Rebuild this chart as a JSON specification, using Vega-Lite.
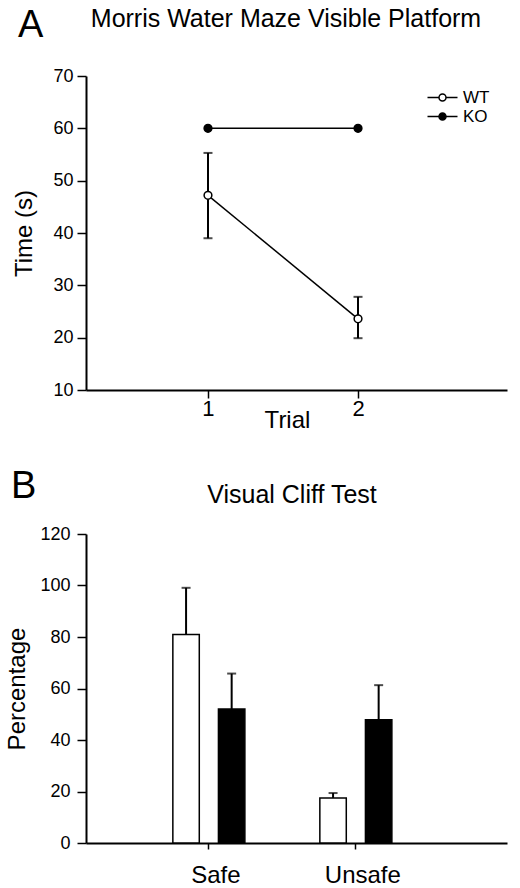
{
  "$schema": "https://vega.github.io/schema/vega-lite/v6.json",
  "padding": {"left": 5, "top": 7, "right": 5, "bottom": 4},
  "config": {
    "font": "Liberation Sans",
    "view": {"stroke": null},
    "axis": {
      "grid": false,
      "domainColor": "black",
      "tickColor": "black",
      "labelColor": "black",
      "titleColor": "black",
      "domainWidth": 2,
      "tickWidth": 1.5,
      "titleFontWeight": "normal",
      "labelFont": "Liberation Sans",
      "titleFont": "Liberation Sans"
    },
    "legend": {"labelFont": "Liberation Sans", "labelColor": "black"},
    "title": {"color": "black", "fontWeight": "normal", "font": "Liberation Sans"}
  },
  "spacing": 36,
  "vconcat": [
    {
      "title": {"text": "A", "anchor": "start", "frame": "bounds", "fontSize": 38, "offset": -38, "dx": 5},
      "vconcat": [
        {
          "title": {"text": "Morris Water Maze Visible Platform", "fontSize": 25, "anchor": "middle", "frame": "group", "offset": 35, "dx": -10.5},
          "width": 421,
          "height": 314,
          "data": {"values": [
            {"group": "WT", "trial": 1, "mean": 47.2, "lo": 39.0, "hi": 55.3},
            {"group": "WT", "trial": 2, "mean": 23.6, "lo": 19.9, "hi": 27.8},
            {"group": "KO", "trial": 1, "mean": 60.0, "lo": null, "hi": null},
            {"group": "KO", "trial": 2, "mean": 60.0, "lo": null, "hi": null}
          ]},
          "encoding": {
            "x": {
              "field": "trial", "type": "quantitative",
              "scale": {"domain": [0.187, 2.993], "nice": false, "zero": false},
              "axis": {"values": [1, 2], "tickSize": 8, "labelFontSize": 22, "labelPadding": 0, "title": "Trial", "titleFontSize": 24, "titlePadding": -11, "titleX": 201, "titleAlign": "center", "format": "d"}
            }
          },
          "layer": [
            {
              "mark": {"type": "line", "color": "black", "strokeWidth": 1.5},
              "encoding": {
                "y": {"field": "mean", "type": "quantitative",
                  "scale": {"domain": [10, 70], "nice": false, "zero": false},
                  "axis": {"values": [10, 20, 30, 40, 50, 60, 70], "tickSize": 9, "labelFontSize": 18, "labelPadding": 4, "title": "Time (s)", "titleFontSize": 24, "titlePadding": 16}},
                "detail": {"field": "group"}
              }
            },
            {
              "transform": [{"filter": "datum.lo != null"}],
              "mark": {"type": "rule", "color": "black", "strokeWidth": 2},
              "encoding": {"y": {"field": "lo", "type": "quantitative"}, "y2": {"field": "hi"}}
            },
            {
              "transform": [{"filter": "datum.lo != null"}],
              "mark": {"type": "tick", "orient": "horizontal", "size": 9, "thickness": 2, "color": "black"},
              "encoding": {"y": {"field": "lo", "type": "quantitative"}}
            },
            {
              "transform": [{"filter": "datum.hi != null"}],
              "mark": {"type": "tick", "orient": "horizontal", "size": 9, "thickness": 2, "color": "black"},
              "encoding": {"y": {"field": "hi", "type": "quantitative"}}
            },
            {
              "mark": {"type": "point", "shape": "circle", "filled": true, "size": 60, "stroke": "black", "strokeWidth": 1.5, "opacity": 1},
              "encoding": {
                "y": {"field": "mean", "type": "quantitative"},
                "fill": {
                  "field": "group", "type": "nominal",
                  "scale": {"domain": ["WT", "KO"], "range": ["white", "black"]},
                  "legend": {
                    "title": null, "orient": "none", "legendX": 348, "legendY": 13,
                    "symbolType": "M-3,0H-0.7M0.7,0H3M0.7,0A0.7,0.7,0,1,1,-0.7,0A0.7,0.7,0,1,1,0.7,0Z",
                    "symbolSize": 100, "symbolStrokeColor": "black", "symbolStrokeWidth": 1.5,
                    "labelFontSize": 17, "labelOffset": 12, "rowPadding": 1
                  }
                }
              }
            }
          ]
        }
      ]
    },
    {
      "title": {"text": "B", "anchor": "start", "frame": "bounds", "fontSize": 38, "offset": -23, "dx": 5},
      "vconcat": [
        {
          "title": {"text": "Visual Cliff Test", "fontSize": 25, "anchor": "middle", "frame": "group", "offset": 17, "dx": -4.5},
          "width": 421,
          "height": 309,
          "data": {"values": [
            {"test": "Safe", "group": "WT", "mean": 81.0, "err": 99.1},
            {"test": "Safe", "group": "KO", "mean": 52.0, "err": 65.8},
            {"test": "Unsafe", "group": "WT", "mean": 17.5, "err": 19.4},
            {"test": "Unsafe", "group": "KO", "mean": 47.9, "err": 61.3}
          ]},
          "encoding": {
            "x": {
              "field": "test", "type": "nominal", "sort": ["Safe", "Unsafe"],
              "scale": {"paddingInner": 0.51, "paddingOuter": 0.687, "align": 0.43},
              "axis": {"title": null, "tickSize": 6, "labelFontSize": 24, "labelPadding": 14, "labelAngle": 0, "labelOffset": 7}
            },
            "xOffset": {"field": "group", "type": "nominal", "sort": ["WT", "KO"], "scale": {"paddingInner": 0.42, "paddingOuter": 0}}
          },
          "layer": [
            {
              "mark": {"type": "rule", "color": "black", "strokeWidth": 2},
              "encoding": {
                "y": {"field": "mean", "type": "quantitative",
                  "scale": {"domain": [0, 120], "nice": false},
                  "axis": {"values": [0, 20, 40, 60, 80, 100, 120], "tickSize": 9, "labelFontSize": 18, "labelPadding": 7, "title": "Percentage", "titleFontSize": 24, "titlePadding": 10}},
                "y2": {"field": "err"}
              }
            },
            {
              "mark": {"type": "tick", "orient": "horizontal", "size": 9, "thickness": 2, "color": "black"},
              "encoding": {"y": {"field": "err", "type": "quantitative"}}
            },
            {
              "mark": {"type": "bar", "stroke": "black", "strokeWidth": 1.5},
              "encoding": {
                "y": {"field": "mean", "type": "quantitative"},
                "fill": {
                  "field": "group", "type": "nominal",
                  "scale": {"domain": ["WT", "KO"], "range": ["white", "black"]},
                  "legend": {
                    "title": null, "orient": "none", "legendX": 341, "legendY": 16,
                    "symbolType": "M-2.9,-0.8H2.9V0.8H-2.9Z",
                    "symbolSize": 100, "symbolStrokeColor": "black", "symbolStrokeWidth": 1.5,
                    "labelFontSize": 17, "labelOffset": 12, "rowPadding": -1
                  }
                }
              }
            }
          ]
        }
      ]
    }
  ]
}
